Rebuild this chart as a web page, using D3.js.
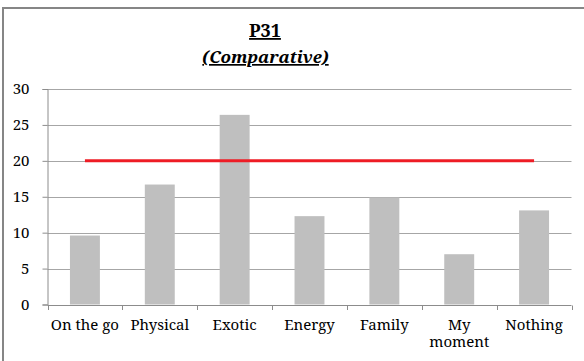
<!DOCTYPE html>
<html>
<head>
<meta charset="utf-8">
<script src="https://cdn.jsdelivr.net/npm/d3@7/dist/d3.min.js"></script>
<style>
  html, body { margin: 0; padding: 0; background: #fff; }
  svg { display: block; }
  text { font-family: "Noto Serif", "Liberation Serif", serif; fill: #000; }
</style>
</head>
<body>
<svg id="chart" width="584" height="361"></svg>
<script>
// Categories and values for P31 (comparative)
const categories = ["On the go", "Physical", "Exotic", "Energy", "Family", "My moment", "Nothing"];
const values = [9.6, 16.7, 26.4, 12.3, 14.9, 7.0, 13.1];
const benchmark = [20, 20, 20, 20, 20, 20, 20];
const yTicks = [0, 5, 10, 15, 20, 25, 30];
const titleText = "P31";
const subtitleText = "(Comparative)";

const svg = d3.select("#chart");
const serif = '"Noto Serif", "Liberation Serif", serif';

// Outer chart frame (continues past the right and bottom edges)
svg.append("rect")
  .attr("x", 3).attr("y", 8)
  .attr("width", 700).attr("height", 500)
  .attr("fill", "#fff")
  .attr("stroke", "#868686")
  .attr("stroke-width", 2);

const plot = { left: 47.5, right: 571.5, top: 89, bottom: 304.5 };

const x = d3.scaleBand()
  .domain(categories)
  .range([plot.left, plot.right])
  .paddingInner(0.6)
  .paddingOuter(0.3);

// Band without padding for tick positions and the benchmark line
const xFull = d3.scaleBand()
  .domain(categories)
  .range([plot.left, plot.right]);

const y = d3.scaleLinear()
  .domain([0, 30])
  .range([plot.bottom, plot.top]);

// Horizontal gridlines
svg.append("g")
  .selectAll("line")
  .data(yTicks.filter(d => d > 0))
  .join("line")
  .attr("x1", plot.left).attr("x2", plot.right)
  .attr("y1", d => Math.round(y(d)) + 0.5)
  .attr("y2", d => Math.round(y(d)) + 0.5)
  .attr("stroke", "#a6a6a6")
  .attr("stroke-width", 1);

// Y axis
const yAxis = svg.append("g")
  .attr("transform", `translate(${plot.left},0)`)
  .call(d3.axisLeft(y).tickValues(yTicks).tickSize(5).tickPadding(13).tickFormat(d3.format("d")));
yAxis.select(".domain").attr("stroke", "#8c8c8c");
yAxis.selectAll(".tick line").attr("stroke", "#8c8c8c");
yAxis.selectAll(".tick text")
  .attr("font-size", 15)
  .style("font-family", serif);

// Bars
svg.append("g")
  .selectAll("rect")
  .data(values)
  .join("rect")
  .attr("x", (d, i) => x(categories[i]))
  .attr("width", x.bandwidth())
  .attr("y", d => y(d))
  .attr("height", d => y(0) - y(d))
  .attr("fill", "#bfbfbf");

// X axis line and ticks at category boundaries
const xg = svg.append("g");
xg.append("line")
  .attr("x1", plot.left).attr("x2", plot.right)
  .attr("y1", Math.round(y(0)) + 0.5).attr("y2", Math.round(y(0)) + 0.5)
  .attr("stroke", "#8c8c8c");
const bounds = categories.map(c => xFull(c)).concat([plot.right]);
xg.selectAll("line.tk")
  .data(bounds)
  .join("line")
  .attr("class", "tk")
  .attr("x1", d => Math.round(d) + 0.5).attr("x2", d => Math.round(d) + 0.5)
  .attr("y1", Math.round(y(0)) + 0.5).attr("y2", Math.round(y(0)) + 5)
  .attr("stroke", "#8c8c8c");

// Category labels (wrapped to two lines where needed)
const wrap = { "My moment": ["My", "moment"] };
const labels = xg.selectAll("text.cat")
  .data(categories)
  .join("text")
  .attr("class", "cat")
  .attr("text-anchor", "middle")
  .attr("font-size", 15)
  .attr("x", d => xFull(d) + xFull.bandwidth() / 2)
  .attr("y", 330);
labels.each(function(d) {
  const lines = wrap[d] || [d];
  const t = d3.select(this);
  lines.forEach((ln, i) => {
    t.append("tspan")
      .attr("x", xFull(d) + xFull.bandwidth() / 2)
      .attr("dy", i === 0 ? 0 : 16.5)
      .text(ln);
  });
});

// Benchmark line through the band centres
const line = d3.line()
  .x((d, i) => xFull(categories[i]) + xFull.bandwidth() / 2)
  .y(d => y(d));
svg.append("path")
  .datum(benchmark)
  .attr("d", line)
  .attr("fill", "none")
  .attr("stroke", "#ee1c25")
  .attr("stroke-width", 3);

// Titles
svg.append("text")
  .attr("x", 265).attr("y", 37)
  .attr("text-anchor", "middle")
  .attr("font-size", 18)
  .attr("font-weight", "bold")
  .style("text-decoration", "underline")
  .text(titleText);

svg.append("text")
  .attr("x", 265.5).attr("y", 63)
  .attr("text-anchor", "middle")
  .attr("font-size", 17)
  .attr("font-weight", "bold")
  .attr("font-style", "italic")
  .style("text-decoration", "underline")
  .text(subtitleText);
</script>
</body>
</html>
